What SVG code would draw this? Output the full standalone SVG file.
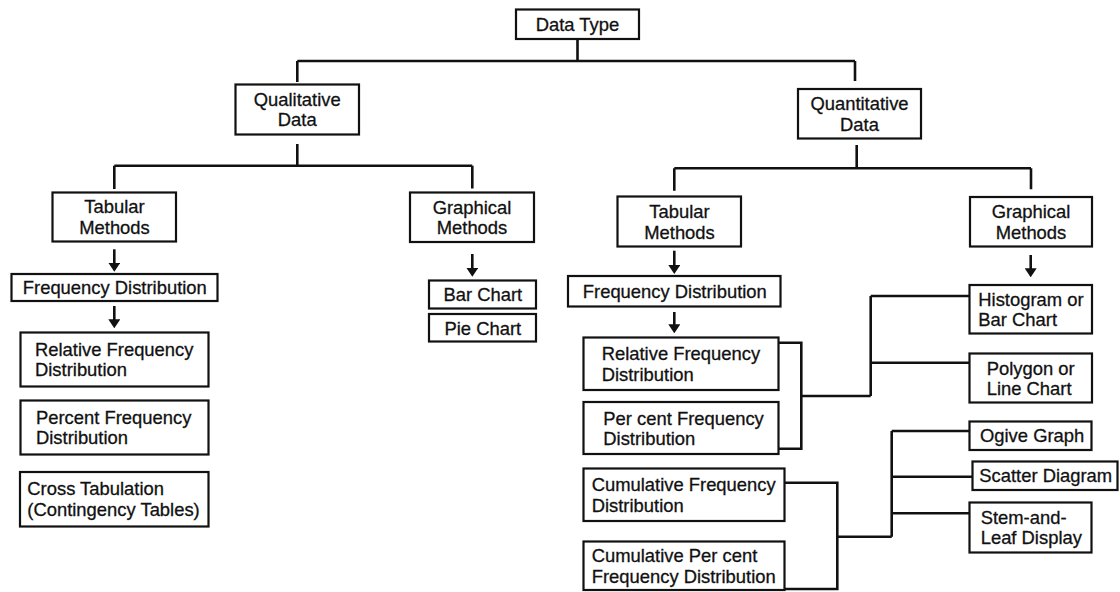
<svg xmlns="http://www.w3.org/2000/svg" width="1120" height="592" viewBox="0 0 1120 592">
  <style>
    .box { fill: #ffffff; stroke: #111111; stroke-width: 2.2; }
    .ln { fill: none; stroke: #111111; stroke-width: 2.6; stroke-linejoin: miter; }
    text { font-family: "Liberation Sans", Arial, Helvetica, sans-serif; font-size: 18.4px; fill: #111111; stroke: #111111; stroke-width: 0.3px; }
    .c { text-anchor: middle; }
  </style>
  <defs>
    <marker id="arrowhead" markerUnits="userSpaceOnUse" markerWidth="9" markerHeight="12" refX="2" refY="6" orient="auto">
      <path d="M0,0 L9,6 L0,12 z" fill="#111111"/>
    </marker>
  </defs>

  <rect width="1120" height="592" fill="#ffffff"/>

  <!-- tree connectors, brackets and arrows -->
  <g id="connectors">
    <!-- root split -->
    <path class="ln" d="M577.5,39 V61 M297.3,61 H855 M297.3,61 V82 M855,61 V81"/>
    <!-- qualitative split -->
    <path class="ln" d="M297.3,144 V165.7 M114.3,165.7 H472.3 M114.3,165.7 V189 M472.3,165.7 V188.5"/>
    <!-- quantitative split -->
    <path class="ln" d="M856.7,145 V168.3 M674.3,168.3 H1031 M674.3,168.3 V190.7 M1031,168.3 V189.3"/>
    <!-- down arrows -->
    <line class="ln" x1="114.3" y1="249.3" x2="114.3" y2="264.7" marker-end="url(#arrowhead)"/>
    <line class="ln" x1="472.3" y1="254" x2="472.3" y2="269.7" marker-end="url(#arrowhead)"/>
    <line class="ln" x1="114.3" y1="306" x2="114.3" y2="321.3" marker-end="url(#arrowhead)"/>
    <line class="ln" x1="674.3" y1="250.7" x2="674.3" y2="267" marker-end="url(#arrowhead)"/>
    <line class="ln" x1="1030.7" y1="255" x2="1030.7" y2="270.3" marker-end="url(#arrowhead)"/>
    <line class="ln" x1="674.3" y1="312" x2="674.3" y2="326.3" marker-end="url(#arrowhead)"/>
    <!-- relative / per cent bracket to histogram and polygon -->
    <path class="ln" d="M778.3,342.7 H801.3 V448.7 H778.3 M801.3,396 H870.7 M870.7,296 V396 M870.7,296 H969.3 M870.7,362.7 H969.3"/>
    <!-- cumulative bracket to ogive, scatter and stem-and-leaf -->
    <path class="ln" d="M784.3,482.7 H837.3 V589 H784.3 M837.3,536.7 H891.7 M891.7,431 V536.7 M891.7,431 H969.3 M891.7,476.7 H972.3 M891.7,513.3 H969.3"/>
  </g>

  <g id="data-type">
    <rect class="box" x="516" y="9.5" width="123" height="29.5"/>
    <text class="c" x="577.5" y="30.8">Data Type</text>
  </g>

  <g id="qualitative-data">
    <rect class="box" x="235.5" y="84.5" width="123.5" height="50"/>
    <text class="c" x="297.2" y="105.8">Qualitative</text>
    <text class="c" x="297.2" y="126.3">Data</text>
  </g>

  <g id="quantitative-data">
    <rect class="box" x="798" y="89" width="123" height="49.5"/>
    <text class="c" x="859.5" y="110.2">Quantitative</text>
    <text class="c" x="859.5" y="130.7">Data</text>
  </g>

  <g id="qual-tabular">
    <rect class="box" x="52.5" y="192.5" width="123.5" height="49"/>
    <text class="c" x="114.5" y="213.4">Tabular</text>
    <text class="c" x="114.5" y="233.9">Methods</text>
  </g>

  <g id="qual-graphical">
    <rect class="box" x="410" y="192.5" width="124" height="49.5"/>
    <text class="c" x="472" y="213.8">Graphical</text>
    <text class="c" x="472" y="234.3">Methods</text>
  </g>

  <g id="quant-tabular">
    <rect class="box" x="617.5" y="196.5" width="123.5" height="50"/>
    <text class="c" x="679.5" y="218">Tabular</text>
    <text class="c" x="679.5" y="238.5">Methods</text>
  </g>

  <g id="quant-graphical">
    <rect class="box" x="970" y="197" width="122" height="49.5"/>
    <text class="c" x="1031" y="218.3">Graphical</text>
    <text class="c" x="1031" y="238.8">Methods</text>
  </g>

  <g id="qual-frequency-distribution">
    <rect class="box" x="11.5" y="274" width="206" height="27"/>
    <text class="c" x="114.8" y="293.5">Frequency Distribution</text>
  </g>

  <g id="bar-chart">
    <rect class="box" x="429" y="280.5" width="107" height="28"/>
    <text class="c" x="482.8" y="301.2">Bar Chart</text>
  </g>

  <g id="pie-chart">
    <rect class="box" x="429" y="314" width="107" height="27.5"/>
    <text class="c" x="482.8" y="334.8">Pie Chart</text>
  </g>

  <g id="quant-frequency-distribution">
    <rect class="box" x="568" y="276" width="212.5" height="30.5"/>
    <text class="c" x="674.8" y="297.9">Frequency Distribution</text>
  </g>

  <g id="qual-relative-frequency">
    <rect class="box" x="20.5" y="332.5" width="188" height="54"/>
    <text x="35" y="355.9">Relative Frequency</text>
    <text x="35" y="376.4">Distribution</text>
  </g>

  <g id="qual-percent-frequency">
    <rect class="box" x="20.5" y="400.5" width="188" height="54"/>
    <text x="36" y="423.9">Percent Frequency</text>
    <text x="36" y="444.4">Distribution</text>
  </g>

  <g id="cross-tabulation">
    <rect class="box" x="20" y="472" width="188.5" height="54.5"/>
    <text x="27.3" y="495.3">Cross Tabulation</text>
    <text x="27.3" y="515.8">(Contingency Tables)</text>
  </g>

  <g id="quant-relative-frequency">
    <rect class="box" x="583.5" y="337.5" width="195" height="52.5"/>
    <text x="601.7" y="360.3">Relative Frequency</text>
    <text x="601.7" y="380.8">Distribution</text>
  </g>

  <g id="quant-per-cent-frequency">
    <rect class="box" x="583.5" y="402" width="195" height="52"/>
    <text x="603.3" y="424.6">Per cent Frequency</text>
    <text x="603.3" y="445.1">Distribution</text>
  </g>

  <g id="cumulative-frequency">
    <rect class="box" x="583.5" y="468.5" width="201" height="52.5"/>
    <text x="591.7" y="491.3">Cumulative Frequency</text>
    <text x="591.7" y="511.8">Distribution</text>
  </g>

  <g id="cumulative-per-cent">
    <rect class="box" x="583.5" y="541.5" width="201" height="48.5"/>
    <text x="591.7" y="562.4">Cumulative Per cent</text>
    <text x="591.7" y="583.2">Frequency Distribution</text>
  </g>

  <g id="histogram">
    <rect class="box" x="969.5" y="285" width="122.5" height="48.5"/>
    <text x="978.3" y="306">Histogram or</text>
    <text x="978.3" y="326.3">Bar Chart</text>
  </g>

  <g id="polygon">
    <rect class="box" x="969.5" y="353.5" width="122.5" height="49"/>
    <text x="986.7" y="374.5">Polygon or</text>
    <text x="986.7" y="395">Line Chart</text>
  </g>

  <g id="ogive-graph">
    <rect class="box" x="969.5" y="421.5" width="122" height="28.5"/>
    <text x="980" y="442.4">Ogive Graph</text>
  </g>

  <g id="scatter-diagram">
    <rect class="box" x="972.5" y="461.5" width="145" height="28.5"/>
    <text x="979.3" y="482.2">Scatter Diagram</text>
  </g>

  <g id="stem-and-leaf">
    <rect class="box" x="969.5" y="502.5" width="122" height="50"/>
    <text x="980.7" y="523.8">Stem-and-</text>
    <text x="980.7" y="544.3">Leaf Display</text>
  </g>
</svg>
